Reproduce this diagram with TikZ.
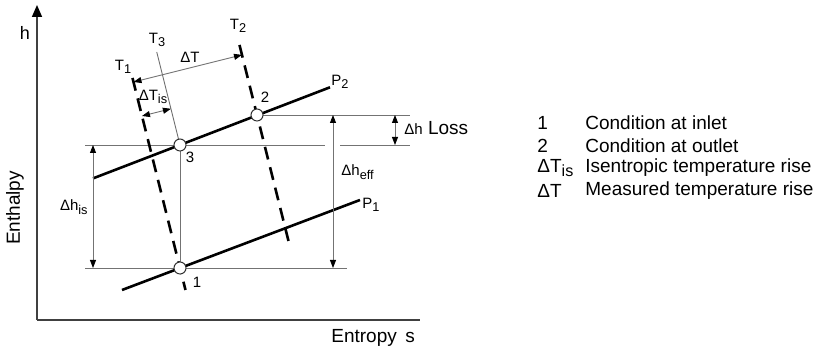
\documentclass[tikz,border=0pt]{standalone}
\usepackage{fontspec}
\setmainfont{Liberation Sans}
\usetikzlibrary{arrows.meta, positioning}
\tikzstyle{axis} = [line width=0.8pt, draw=black!75]
\tikzstyle{isobar} = [line width=1.3pt]
\tikzstyle{isotherm} = [line width=1.3pt, 
dash pattern=on 6.5pt off 4pt]
\tikzstyle{guide} = [line width=0.45pt, draw=black!55]
\tikzstyle{dim} = [guide, 
{Triangle[length=4pt, width=3pt, color=black]}-{Triangle[length=4pt, width=3pt, color=black]}]
\tikzstyle{state} = [circle, 
draw=black!80, 
line width=0.5pt, 
fill=white, 
minimum size=6pt, 
inner sep=0pt]
\tikzstyle{lbl} = [font=\fontsize{7.5}{9}\selectfont, inner sep=0pt]
\tikzstyle{legend} = [font=\fontsize{9.5}{11}\selectfont, anchor=west, inner sep=0pt]
\newcommand{\lowidx}[1]{\raisebox{-0.45ex}{\scalebox{0.85}{#1}}}

\begin{document}
\begin{tikzpicture}[x=0.5pt, y=-0.5pt]
        \useasboundingbox (0,0) rectangle (827,351);

        % --- Ejes ---
        \coordinate (origin) at (37,320);
        \coordinate (htop) at (37,5);
        \coordinate (send) at (420,320);
        \draw [axis, -{Triangle[length=6pt, width=5pt, color=black]}] (origin) -- (htop);
        \draw [axis] (origin) -- (send);
        \node (hlab) [lbl, font=\fontsize{9}{10}\selectfont] at (25,33) {h};
        \node (ylab) [legend, anchor=center, rotate=90] at (15,208) {Enthalpy};
        \node (xlab) [legend] at (331,338) {Entropy\hspace{0.45em}s};

        % --- Estados ---
        \coordinate (s1) at (180,268);
        \coordinate (s3) at (180,145);
        \coordinate (s2) at (257,115);

        % --- Lineas auxiliares finas ---
        \coordinate (g1a) at (85,268);
        \coordinate (g1b) at (347,268);
        \coordinate (g3a) at (85,145);
        \coordinate (g3b) at (325,145);
        \coordinate (g3c) at (340,145);
        \coordinate (g3d) at (410,145);
        \coordinate (g2b) at (410,115);
        \coordinate (t3top) at (156.75,52);
        \draw [guide] (g1a) -- (g1b);
        \draw [guide] (g3a) -- (g3b);
        \draw [guide] (g3c) -- (g3d);
        \draw [guide] (s2) -- (g2b);
        \draw [guide] (s3) -- (s1);
        \draw [guide] (t3top) -- (s3);

        % --- Isobaras P1 y P2 ---
        \coordinate (p2a) at (93,178.4);
        \coordinate (p2b) at (330,87.3);
        \coordinate (p1a) at (122,290);
        \coordinate (p1b) at (360,200);
        \draw [isobar] (p2a) -- (p2b);
        \draw [isobar] (p1a) -- (p1b);
        \node (p2lab) [lbl, anchor=west] at (331,82) {P\lowidx{2}};
        \node (p1lab) [lbl, anchor=west] at (362,205) {P\lowidx{1}};

        % --- Isotermas T1 y T2 ---
        \coordinate (t1a) at (132.5,78);
        \coordinate (t1b) at (185.5,290);
        \coordinate (t2a) at (239.5,45);
        \coordinate (t2b) at (289.25,244);
        \draw [isotherm] (t1a) -- (t1b);
        \draw [isotherm] (t2a) -- (t2b);
        \node (t1lab) [lbl] at (123,67) {T\lowidx{1}};
        \node (t3lab) [lbl] at (157,40) {T\lowidx{3}};
        \node (t2lab) [lbl] at (238,26) {T\lowidx{2}};

        % --- Cotas ---
        \coordinate (dta) at (133.5,82);
        \coordinate (dtb) at (242,54.9);
        \coordinate (dtisa) at (142,116);
        \coordinate (dtisb) at (170.9,108.8);
        \coordinate (hisa) at (93,145);
        \coordinate (hisb) at (93,268);
        \coordinate (heffa) at (333,115);
        \coordinate (heffb) at (333,268);
        \coordinate (hlossa) at (395,115);
        \coordinate (hlossb) at (395,145);
        \draw [dim] (dta) -- (dtb);
        \draw [dim] (dtisa) -- (dtisb);
        \draw [dim] (hisa) -- (hisb);
        \draw [dim] (heffa) -- (heffb);
        \draw [dim] (hlossa) -- (hlossb);
        \node (dtlab) [lbl] at (190,57) {ΔT};
        \node (dtislab) [lbl] at (153,97) {ΔT\lowidx{is}};
        \node (hislab) [lbl, anchor=east] at (88,207) {Δh\lowidx{is}};
        \node (hefflab) [lbl, anchor=west] at (341,172) {Δh\lowidx{eff}};
        \node (hlosslab) [legend] at (404,128) {{\fontsize{7.5}{9}\selectfont Δh} Loss};

        % --- Puntos de estado ---
        \node (pt1) [state] at (s1) {};
        \node (pt3) [state] at (s3) {};
        \node (pt2) [state] at (s2) {};
        \node (pt1lab) [lbl] at (197,282) {1};
        \node (pt3lab) [lbl] at (190,157) {3};
        \node (pt2lab) [lbl] at (265,97) {2};

        % --- Leyenda ---
        \node (k1) [legend] at (537,123) {1};
        \node (k2) [legend] at (537,145.5) {2};
        \node (k3) [legend] at (537,168) {ΔT\lowidx{is}};
        \node (k4) [legend] at (537,190.5) {ΔT};
        \node (d1) [legend] at (585,123) {Condition at inlet};
        \node (d2) [legend] at (585,145.5) {Condition at outlet};
        \node (d3) [legend] at (585,168) {Isentropic temperature rise};
        \node (d4) [legend] at (585,190.5) {Measured temperature rise};

    \end{tikzpicture}
\end{document}
